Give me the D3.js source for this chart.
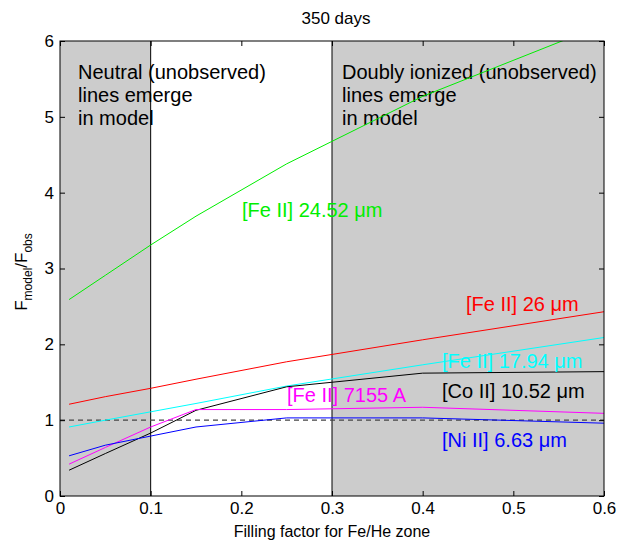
<!DOCTYPE html>
<html>
<head>
<meta charset="utf-8">
<script src="https://cdn.jsdelivr.net/npm/d3@7"></script>
<style>
  html, body { margin: 0; padding: 0; background: #fff; }
  svg { display: block; font-family: "Liberation Sans", Arial, Helvetica, sans-serif; }
</style>
</head>
<body>
<svg id="chart" width="642" height="542"></svg>
<script>
// Filling factors at which the model was evaluated
const fillingFactor = [0.01, 0.05, 0.1, 0.15, 0.25, 0.4, 0.6];

// Model / observed flux ratios for each line
const feII_24_52 = [2.59, 2.91, 3.31, 3.69, 4.38, 5.27, 6.22];
const feII_26    = [1.21, 1.31, 1.42, 1.54, 1.77, 2.06, 2.43];
const feII_17_94 = [0.91, 1.00, 1.11, 1.22, 1.45, 1.73, 2.09];
const coII_10_52 = [0.34, 0.56, 0.83, 1.13, 1.44, 1.62, 1.64];
const feII_7155  = [0.42, 0.64, 0.91, 1.14, 1.14, 1.17, 1.09];
const niII_6_63  = [0.53, 0.67, 0.79, 0.91, 1.03, 1.03, 0.96];

const xTicks = [0, 0.1, 0.2, 0.3, 0.4, 0.5, 0.6];
const yTicks = [0, 1, 2, 3, 4, 5, 6];

// Regions where unobserved ionisation stages appear
const neutralRange = [0, 0.1];
const doublyRange = [0.3, 0.6];

const series = [
  { name: "[Fe II] 24.52 \u03bcm", values: feII_24_52, color: "#00ee00", label: [242, 210] },
  { name: "[Fe II] 26 \u03bcm",    values: feII_26,    color: "#ff0000", label: [466, 304] },
  { name: "[Fe II] 17.94 \u03bcm", values: feII_17_94, color: "#00ffff", label: [442, 361] },
  { name: "[Co II] 10.52 \u03bcm", values: coII_10_52, color: "#000000", label: [442, 391] },
  { name: "[Fe II] 7155 A",        values: feII_7155,  color: "#ff00ff", label: [287, 395] },
  { name: "[Ni II] 6.63 \u03bcm",  values: niII_6_63,  color: "#0000ff", label: [442, 440] }
];

const svg = d3.select("#chart");
const margin = { left: 60, right: 38, top: 41, bottom: 46 };
const W = 642, H = 542;
const x = d3.scaleLinear().domain([0, 0.6]).range([margin.left, W - margin.right]);
const y = d3.scaleLinear().domain([0, 6]).range([H - margin.bottom, margin.top]);

svg.append("defs").append("clipPath").attr("id", "plotClip")
  .append("rect")
  .attr("x", x(0)).attr("y", y(6))
  .attr("width", x(0.6) - x(0)).attr("height", y(0) - y(6));

// shaded regions
[neutralRange, doublyRange].forEach(r => {
  svg.append("rect")
    .attr("x", x(r[0])).attr("y", y(6))
    .attr("width", x(r[1]) - x(r[0])).attr("height", y(0) - y(6))
    .attr("fill", "#cccccc");
});

// region boundaries
[0.1, 0.3].forEach(v => {
  svg.append("line")
    .attr("x1", x(v)).attr("x2", x(v))
    .attr("y1", y(0)).attr("y2", y(6))
    .attr("stroke", "#000").attr("stroke-width", 1);
});

// unity reference
svg.append("line")
  .attr("x1", x(0)).attr("x2", x(0.6))
  .attr("y1", y(1)).attr("y2", y(1))
  .attr("stroke", "#444").attr("stroke-width", 1.2)
  .attr("stroke-dasharray", "5,4");

// annotations
const noteSize = 20;
[["Neutral (unobserved)", "lines emerge", "in model", 78],
 ["Doubly ionized (unobserved)", "lines emerge", "in model", 342]].forEach(a => {
  const t = svg.append("text").attr("x", a[3]).attr("y", 79)
    .attr("font-size", noteSize).attr("fill", "#000");
  [a[0], a[1], a[2]].forEach((s, i) => {
    t.append("tspan").attr("x", a[3]).attr("dy", i === 0 ? 0 : 23).text(s);
  });
});

// model curves
const line = d3.line()
  .x((d, i) => x(fillingFactor[i]))
  .y(d => y(d));

const g = svg.append("g").attr("clip-path", "url(#plotClip)");
series.forEach(s => {
  g.append("path")
    .datum(s.values)
    .attr("d", line)
    .attr("fill", "none")
    .attr("stroke", s.color)
    .attr("stroke-width", 1);
});

// curve labels
series.forEach(s => {
  svg.append("text")
    .attr("x", s.label[0]).attr("y", s.label[1])
    .attr("dy", "0.35em")
    .attr("font-size", 20)
    .attr("fill", s.color)
    .text(s.name);
});

// axes (ticks point inward, mirrored on top and right)
const tickLen = 5;
const xAxisB = d3.axisBottom(x).tickValues(xTicks).tickFormat(d => d === 0 ? "0" : d3.format(".1f")(d))
  .tickSizeInner(-tickLen).tickSizeOuter(0).tickPadding(6);
const xAxisT = d3.axisTop(x).tickValues(xTicks).tickFormat("").tickSizeInner(-tickLen).tickSizeOuter(0);
const yAxisL = d3.axisLeft(y).tickValues(yTicks).tickFormat(d3.format("d"))
  .tickSizeInner(-tickLen).tickSizeOuter(0).tickPadding(6);
const yAxisR = d3.axisRight(y).tickValues(yTicks).tickFormat("").tickSizeInner(-tickLen).tickSizeOuter(0);

function style(sel) {
  sel.selectAll("path").remove();
  sel.selectAll("line").attr("stroke", "#000");
  sel.selectAll("text").attr("font-size", 17).attr("fill", "#000")
    .attr("font-family", "Liberation Sans, Arial, sans-serif");
}
svg.append("g").attr("transform", `translate(0,${y(0)})`).call(xAxisB).call(style);
svg.append("g").attr("transform", `translate(0,${y(6)})`).call(xAxisT).call(style);
svg.append("g").attr("transform", `translate(${x(0)},0)`).call(yAxisL).call(style);
svg.append("g").attr("transform", `translate(${x(0.6)},0)`).call(yAxisR).call(style);

// frame
svg.append("rect")
  .attr("x", x(0)).attr("y", y(6))
  .attr("width", x(0.6) - x(0)).attr("height", y(0) - y(6))
  .attr("fill", "none").attr("stroke", "#000").attr("stroke-width", 1);

// title
svg.append("text").attr("x", 336).attr("y", 24)
  .attr("text-anchor", "middle").attr("font-size", 17).text("350 days");

// x label
svg.append("text").attr("x", 332).attr("y", 537)
  .attr("text-anchor", "middle").attr("font-size", 16).text("Filling factor for Fe/He zone");

// y label with subscripts
const yl = svg.append("text")
  .attr("transform", "translate(27,272) rotate(-90)")
  .attr("text-anchor", "middle").attr("font-size", 17);
yl.append("tspan").text("F");
yl.append("tspan").attr("font-size", 12).attr("dy", 5).text("model");
yl.append("tspan").attr("dy", -5).text("/F");
yl.append("tspan").attr("font-size", 12).attr("dy", 5).text("obs");
</script>
</body>
</html>
